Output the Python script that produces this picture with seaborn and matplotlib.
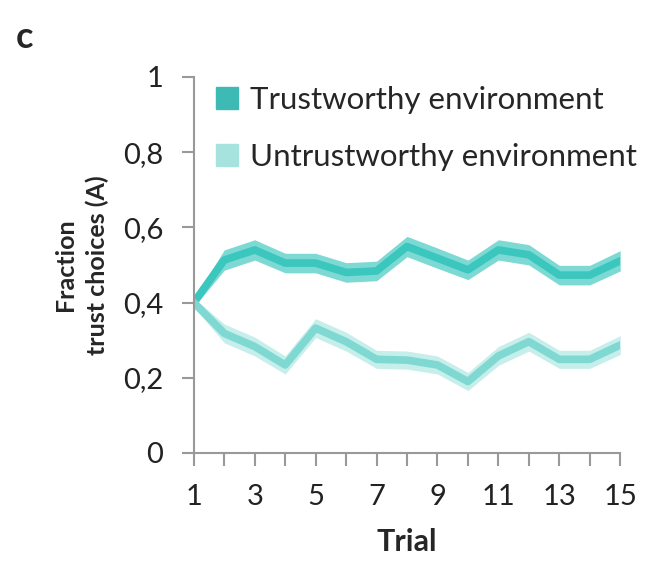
import numpy as np
import pandas as pd
import seaborn as sns
import matplotlib.pyplot as plt
from matplotlib.patches import Patch

# dados
trials = list(range(1, 16))
trust_mean = [0.40, 0.513, 0.54, 0.505, 0.505, 0.48, 0.484, 0.549, 0.518, 0.487, 0.54, 0.527, 0.473, 0.473, 0.511]
trust_err = [0.012, 0.027, 0.027, 0.026, 0.026, 0.026, 0.026, 0.027, 0.027, 0.026, 0.027, 0.027, 0.026, 0.026, 0.027]
untrust_mean = [0.40, 0.318, 0.283, 0.234, 0.332, 0.296, 0.249, 0.247, 0.234, 0.19, 0.258, 0.296, 0.249, 0.249, 0.287]
untrust_err = [0.012, 0.025, 0.025, 0.024, 0.025, 0.025, 0.024, 0.024, 0.024, 0.024, 0.025, 0.025, 0.024, 0.024, 0.025]
labels = ["Trustworthy environment", "Untrustworthy environment"]

dados = pd.DataFrame({
    "Trial": trials * 2,
    "valor": trust_mean + untrust_mean,
    "grupo": [labels[0]] * 15 + [labels[1]] * 15,
})

sns.set_style("white")
plt.rcParams['font.family'] = ['Lato', 'DejaVu Sans']

fig = plt.figure(figsize=(6.57, 5.63), dpi=100)
ax = fig.add_axes([0.295, 0.1954, 0.649, 0.668])

# bandas de erro
tm, te = np.array(trust_mean), np.array(trust_err)
um, ue = np.array(untrust_mean), np.array(untrust_err)
ax.fill_between(trials, tm - te, tm + te, color="#7dd9d3", lw=0, zorder=1)
ax.fill_between(trials, um - ue, um + ue, color="#c6eeeb", lw=0, zorder=1)

sns.lineplot(data=dados, x="Trial", y="valor", hue="grupo",
             palette={labels[0]: "#3cc7be", labels[1]: "#80d8d2"},
             lw=5.5, ax=ax, legend=False, zorder=2)

ax.set_xlim(1, 15)
ax.set_ylim(0, 1)
ax.set_xticks(trials)
ax.set_xticklabels([str(t) if t % 2 == 1 else "" for t in trials])
ax.set_yticks([0, 0.2, 0.4, 0.6, 0.8, 1])
ax.set_yticklabels(["0", "0,2", "0,4", "0,6", "0,8", "1"])

for s in ["top", "right"]:
    ax.spines[s].set_visible(False)
for s in ["left", "bottom"]:
    ax.spines[s].set_color("#999999")
    ax.spines[s].set_linewidth(1.5)
ax.tick_params(axis="both", direction="out", length=9, width=1.5, color="#999999",
               labelsize=21, labelcolor="#222222", left=True, bottom=True)
ax.tick_params(axis="x", pad=13)
ax.tick_params(axis="y", pad=13)

ax.set_xlabel("Trial", fontsize=22, fontweight="bold", labelpad=13)
ax.set_ylabel("Fraction\ntrust choices (A)", fontsize=18, fontweight="bold", labelpad=10,
              linespacing=1.45)

# legenda
handles = [Patch(color="#3cbab3"), Patch(color="#a6e3de")]
ax.legend(handles, labels, loc="upper left", bbox_to_anchor=(0.0, 1.035), frameon=False,
          fontsize=22.5, handlelength=0.7, handleheight=0.7, handletextpad=0.4,
          labelspacing=0.95, borderaxespad=0.3)

fig.text(0.024, 0.915, "c", fontsize=26, fontweight="bold")

plt.savefig("out.png", dpi=100)
